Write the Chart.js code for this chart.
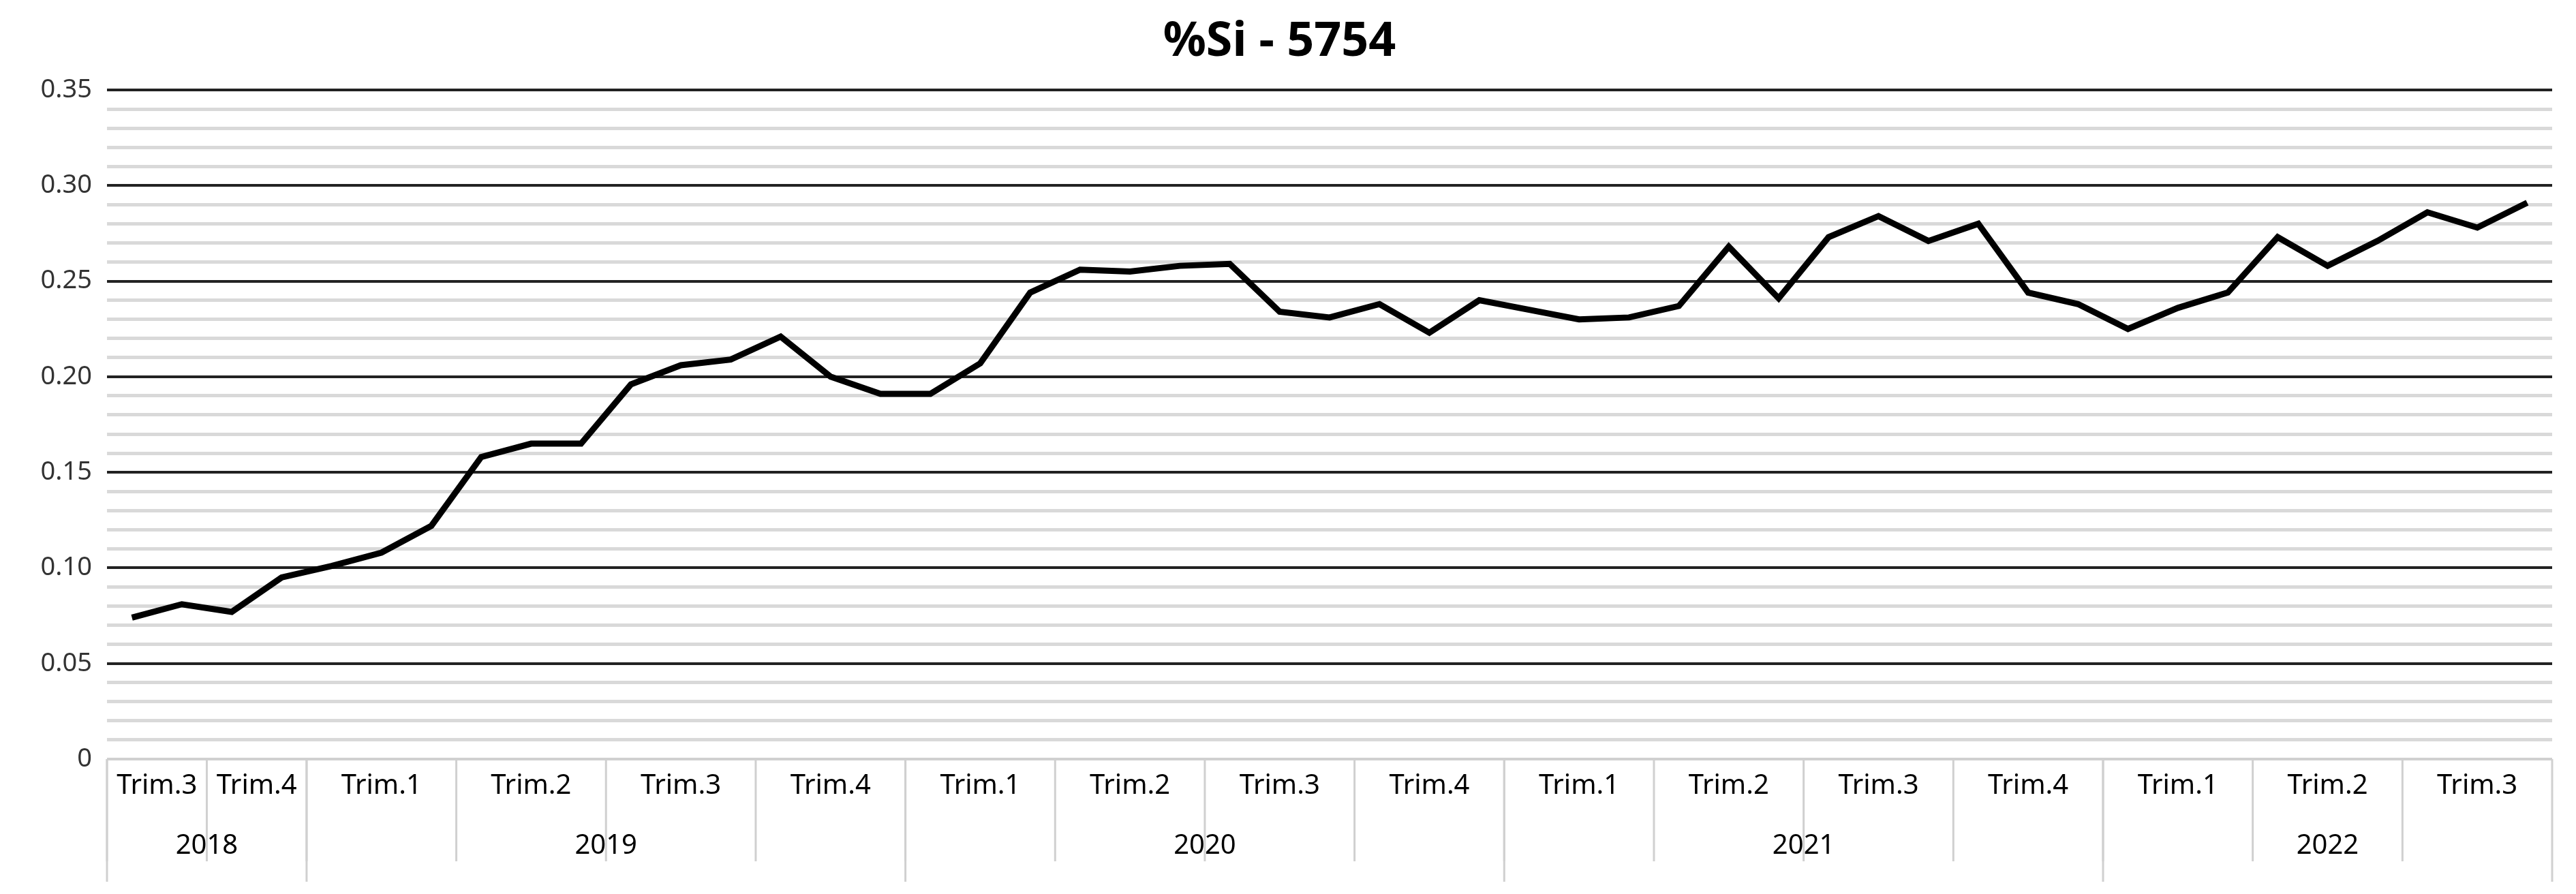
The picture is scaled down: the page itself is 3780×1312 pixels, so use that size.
<!DOCTYPE html>
<html><head><meta charset="utf-8">
<script src="https://cdn.jsdelivr.net/npm/chart.js@4"></script>
<style>html,body{margin:0;padding:0;background:#fff}</style>
</head><body>
<canvas id="c" width="3780" height="1312" style="width:3780px;height:1312px"></canvas>
<script>
const months = Array.from({length:49},(_,i)=>'M'+(i+1));
const siValues = [0.074,0.081,0.077,0.095,0.101,0.108,0.122,0.158,0.165,0.165,0.196,0.206,0.209,0.221,0.200,0.191,
0.191,0.207,0.244,0.256,0.255,0.258,0.259,0.234,0.231,0.238,0.223,0.240,0.235,0.230,0.231,0.237,
0.268,0.241,0.273,0.284,0.271,0.280,0.244,0.238,0.225,0.236,0.244,0.273,0.258,0.271,0.286,0.278,0.291];
const quarterLabels = ['Trim.3','Trim.4','Trim.1','Trim.2','Trim.3','Trim.4','Trim.1','Trim.2','Trim.3','Trim.4','Trim.1','Trim.2','Trim.3','Trim.4','Trim.1','Trim.2','Trim.3'];
const quarterSizes = [2,2,3,3,3,3,3,3,3,3,3,3,3,3,3,3,3];
const yearLabels = ['2018','2019','2020','2021','2022'];
const yearSizes = [4,12,12,12,9];
const FONT = "'Noto Sans', sans-serif";

const groupLabels = {
  id:'groupLabels',
  afterDraw(chart){
    const ctx = chart.ctx, x = chart.scales.x, area = chart.chartArea;
    const slot = (x.getPixelForValue(1)-x.getPixelForValue(0));
    const edge = i => x.getPixelForValue(i) - slot/2;
    ctx.save();
    ctx.strokeStyle = '#d0d0d0'; ctx.lineWidth = 3;
    ctx.fillStyle = '#000'; ctx.font = "40px "+FONT;
    ctx.textAlign = 'center'; ctx.textBaseline = 'middle';
    let idx = 0;
    const row1 = area.bottom + 100, row2 = area.bottom + 300;
    quarterSizes.forEach((n,k)=>{
      const a = edge(idx), b = edge(idx+n);
      ctx.beginPath(); ctx.moveTo(a, area.bottom); ctx.lineTo(a, area.bottom+100*0+100+50); ctx.stroke();
      ctx.fillText(quarterLabels[k], (a+b)/2, area.bottom + 40);
      idx += n;
    });
    idx = 0;
    yearSizes.forEach((n,k)=>{
      const a = edge(idx), b = edge(idx+n);
      ctx.beginPath(); ctx.moveTo(a, area.bottom); ctx.lineTo(a, area.bottom+150*1+0+0+0+ 0 + 0 + 0 + 0 + 0 + 0 + 0 + 0 + 0 + 0 + 0 + 0 + 0 +0+ 0+ 0+ 0 + 0 + 0 + 0 + 0 + 0 + 0 + 0 + 0 + 0 + 0 + 0 + 0 + 0 + 0 + 0 + 0 + 0 + 0 + 0 + 0 + 0 + 0 + 0 + 0 + 0 + 0 + 0 + 0 + 0 + 0 + 0 + 0 + 0 + 0 + 0 + 0 + 0 + 0 + 0 + 0 + 0 + 0 + 0 + 0 + 0 + 0 + 0 + 0 + 0 + 0 + 0 + 0 + 0 + 0 + 0 + 0 + 0 + 0 + 0 + 0 + 0 + 0 + 0 + 0 + 0 + 0 + 0 + 0 + 0 + 0 + 0 + 0 + 0 + 0 + 0 + 0 + 0 + 0 + 0 + 0 + 0 + 0 + 0 + 0 + 0 + 0 + 0 + 0 + 0 + 0 + 0 + 0 + 0 + 0 + 0 + 0 + 0 + 0 + 0 + 0 + 0 + 0 + 0 + 0 + 0 + 0 + 30); ctx.stroke();
      ctx.fillText(yearLabels[k], (a+b)/2, area.bottom + 128);
      idx += n;
    });
    const last = edge(months.length);
    ctx.beginPath(); ctx.moveTo(last, area.bottom); ctx.lineTo(last, area.bottom+180); ctx.stroke();
    ctx.restore();
  }
};

new Chart(document.getElementById('c'), {
  type:'line',
  data:{ labels: months, datasets:[{ data: siValues, borderColor:'#000', borderWidth:9, pointRadius:0, tension:0, fill:false }] },
  options:{
    responsive:false, animation:false, devicePixelRatio:1,
    layout:{ padding:{ left:10, right:35, top:10, bottom:190 } },
    plugins:{
      legend:{display:false}, tooltip:{enabled:false},
      title:{ display:true, text:'%Si - 5754', color:'#000', font:{family:FONT, size:70, weight:'bold'}, padding:{top:10, bottom:28} }
    },
    scales:{
      x:{ type:'category', offset:true, ticks:{display:false}, grid:{display:false}, border:{display:false} },
      y:{ min:0, max:0.35,
        ticks:{ stepSize:0.01, autoSkip:false, color:'#333', font:{family:FONT, size:38}, padding:22,
          callback:(v)=>{ const r=Math.round(v*100); if(r%5!==0) return ''; return r===0?'0':(r/100).toFixed(2); } },
        grid:{ drawTicks:false, color:(c)=>{ const r=Math.round(c.tick.value*100); return r===0?'#d0d0d0':(r%5===0?'#222':'#d9d9d9'); }, lineWidth:(c)=>{ const r=Math.round(c.tick.value*100); return r%5===0?4:5; } },
        border:{display:false},
        afterFit:(s)=>{ s.width = 147; }
      }
    }
  },
  plugins:[groupLabels]
});
</script>
</body></html>
